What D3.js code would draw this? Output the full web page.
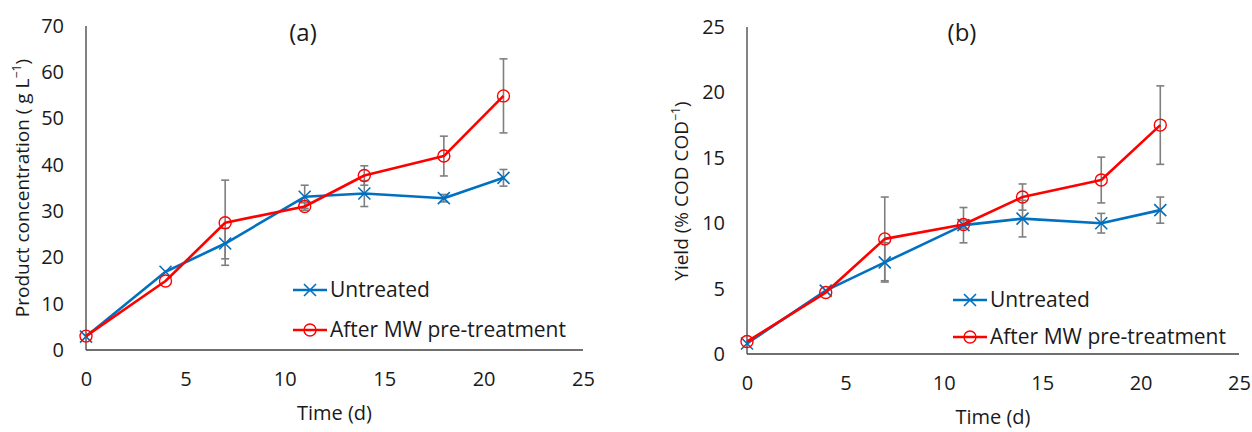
<!DOCTYPE html>
<html>
<head>
<meta charset="utf-8">
<title>product-yield</title>
<style>
  body { margin: 0; background: #fff; }
  svg text { font-family: "Open Sans", "Noto Sans", sans-serif; fill: #1a1a1a; }
</style>
</head>
<body>
<script src="https://cdn.jsdelivr.net/npm/d3@7"></script>
<script>
/*========= DATA =========*/
var days = [0, 4, 7, 11, 14, 18, 21];
var xTicks = [0, 5, 10, 15, 20, 25];

// (a) product concentration, g/L
var concUntreated    = [2.9, 16.9, 23.0, 33.1, 33.8, 32.8, 37.2];
var concUntreatedErr = [0, 0, 3.3, 2.5, 2.8, 0.8, 1.8];
var concMW           = [3.0, 14.9, 27.5, 31.0, 37.7, 41.9, 54.9];
var concMWErr        = [0, 0, 9.2, 0.8, 2.1, 4.3, 8.0];
var concTicks = [0, 10, 20, 30, 40, 50, 60, 70];

// (b) yield, % COD/COD
var yieldUntreated    = [0.8, 4.85, 7.0, 9.85, 10.35, 10.0, 11.0];
var yieldUntreatedErr = [0, 0, 1.5, 1.35, 1.4, 0.75, 1.0];
var yieldMW           = [0.95, 4.7, 8.8, 9.9, 12.0, 13.3, 17.5];
var yieldMWErr        = [0, 0, 3.2, 0.3, 1.0, 1.75, 3.0];
var yieldTicks = [0, 5, 10, 15, 20, 25];

var seriesNames = ["Untreated", "After MW pre-treatment"];

/*========= SVG =========*/
var w = 1252, h = 432;
var svg = d3.select("body").append("svg").attr("width", w).attr("height", h);

var blue = "#0070C0", red = "#FF0000", grey = "#7f7f7f";

function panel(cfg) {
  var g = svg.append("g");
  var x = d3.scaleLinear().domain([0, 25]).range([cfg.left, cfg.right]);
  var y = d3.scaleLinear().domain([0, cfg.yMax]).range([cfg.bottom, cfg.top]);

  // axes (no tick marks, Excel style)
  var xAxis = g.append("g").attr("transform", "translate(0," + cfg.bottom + ")")
    .call(d3.axisBottom(x).tickValues(xTicks).tickSize(0).tickPadding(22));
  var yAxis = g.append("g").attr("transform", "translate(" + cfg.left + ",0)")
    .call(d3.axisLeft(y).tickValues(cfg.yTicks).tickSize(0).tickPadding(22));
  [xAxis, yAxis].forEach(function (a) {
    a.select(".domain").attr("stroke", "#404040").attr("stroke-width", 1.3);
    a.selectAll("text").attr("font-size", 20).attr("fill", "#1a1a1a")
      .style("font-family", "\"Open Sans\", sans-serif");
  });
  xAxis.select(".domain").attr("d", "M" + (cfg.left) + ",0H" + cfg.right);
  yAxis.select(".domain").attr("d", "M0," + cfg.top + "V" + cfg.bottom);

  // titles
  g.append("text").attr("x", (cfg.left + cfg.right) / 2).attr("y", cfg.bottom + 70)
    .attr("text-anchor", "middle").attr("font-size", 20).text("Time (d)");
  g.append("text").attr("x", cfg.panelX).attr("y", 41)
    .attr("text-anchor", "middle").attr("font-size", 24).text(cfg.panelLabel);
  var yl = g.append("text")
    .attr("transform", "translate(" + cfg.yLabelX + "," + cfg.yLabelY + ") rotate(-90)")
    .attr("text-anchor", "middle").attr("font-size", cfg.yLabelSize);
  yl.append("tspan").text(cfg.yLabel[0]);
  yl.append("tspan").attr("font-size", cfg.yLabelSize * 0.65).attr("dy", -8).text("−1");
  yl.append("tspan").attr("dy", 8).text(")");

  var series = [
    { name: seriesNames[0], v: cfg.a, e: cfg.aErr, color: blue, marker: "x" },
    { name: seriesNames[1], v: cfg.b, e: cfg.bErr, color: red, marker: "o" }
  ];

  // error bars
  series.forEach(function (s) {
    var eb = g.append("g").selectAll("g").data(days.map(function (d, i) {
      return { x: d, v: s.v[i], e: s.e[i] };
    }).filter(function (d) { return d.e > 0; })).enter().append("g")
      .attr("stroke", grey).attr("stroke-width", 1.6);
    eb.append("line").attr("x1", function (d) { return x(d.x); }).attr("x2", function (d) { return x(d.x); })
      .attr("y1", function (d) { return y(d.v - d.e); }).attr("y2", function (d) { return y(d.v + d.e); });
    [-1, 1].forEach(function (sgn) {
      eb.append("line").attr("x1", function (d) { return x(d.x) - 4; }).attr("x2", function (d) { return x(d.x) + 4; })
        .attr("y1", function (d) { return y(d.v + sgn * d.e); }).attr("y2", function (d) { return y(d.v + sgn * d.e); });
    });
  });

  var line = d3.line().x(function (d, i) { return x(days[i]); }).y(function (d) { return y(d); });

  function marker(sel, type, color) {
    if (type === "x") {
      sel.append("path").attr("d", "M-6,-6L6,6M-6,6L6,-6")
        .attr("stroke", color).attr("stroke-width", 1.6).attr("fill", "none");
    } else {
      sel.append("circle").attr("r", 6)
        .attr("stroke", color).attr("stroke-width", 1.4).attr("fill", "none");
    }
  }

  series.forEach(function (s) {
    g.append("path").datum(s.v).attr("d", line)
      .attr("fill", "none").attr("stroke", s.color).attr("stroke-width", 2.6)
      .attr("stroke-linejoin", "round");
    g.append("g").selectAll("g").data(s.v).enter().append("g")
      .attr("transform", function (d, i) { return "translate(" + x(days[i]) + "," + y(d) + ")"; })
      .each(function () { marker(d3.select(this), s.marker, s.color); });
  });

  // legend
  series.forEach(function (s, i) {
    var ly = cfg.legY + i * cfg.legGap;
    var lg = g.append("g").attr("transform", "translate(" + cfg.legX + "," + ly + ")");
    lg.append("line").attr("x1", 0).attr("x2", 34).attr("stroke", s.color).attr("stroke-width", 2.6);
    var m = lg.append("g").attr("transform", "translate(17,0)");
    marker(m, s.marker, s.color);
    lg.append("text").attr("x", 37).attr("y", 7).attr("font-size", 21).text(s.name);
  });
}

panel({
  left: 86, right: 583, top: 26, bottom: 350, yMax: 70, yTicks: concTicks,
  a: concUntreated, aErr: concUntreatedErr, b: concMW, bErr: concMWErr,
  panelLabel: "(a)", panelX: 303,
  yLabel: ["Product concentration ( g L"], yLabelX: 29, yLabelY: 188, yLabelSize: 19,
  legX: 293, legY: 290, legGap: 40
});

panel({
  left: 747, right: 1239, top: 27, bottom: 354, yMax: 25, yTicks: yieldTicks,
  a: yieldUntreated, aErr: yieldUntreatedErr, b: yieldMW, bErr: yieldMWErr,
  panelLabel: "(b)", panelX: 962,
  yLabel: ["Yield (% COD COD"], yLabelX: 688, yLabelY: 191, yLabelSize: 19,
  legX: 953, legY: 300, legGap: 37
});
</script>
</body>
</html>
